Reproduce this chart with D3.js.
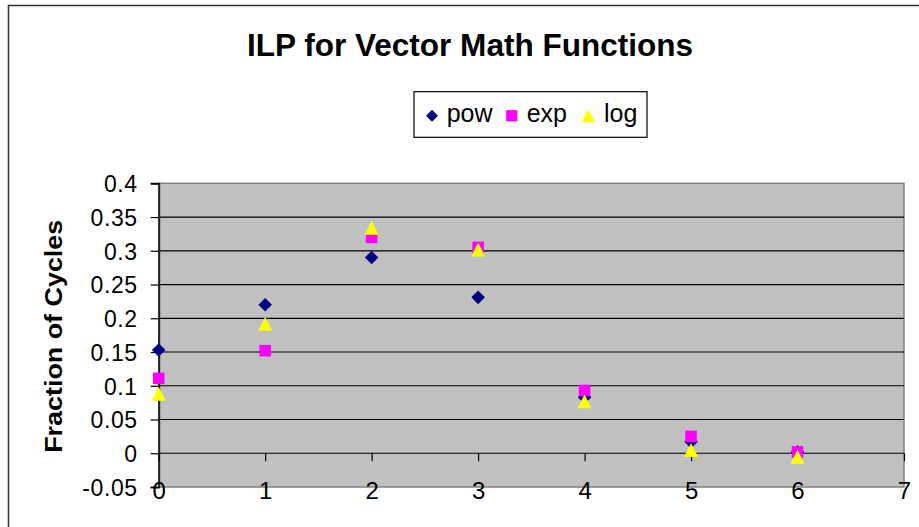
<!DOCTYPE html>
<html><head><meta charset="utf-8">
<script src="https://cdn.jsdelivr.net/npm/d3@7"></script>
<style>body{margin:0;background:#fff}svg{display:block}text{font-family:Arial,"Liberation Sans",sans-serif}</style>
</head><body>
<script>
const categories = [0,1,2,3,4,5,6];
const powValues = [0.153,0.220,0.290,0.231,0.083,0.017,0.002];
const expValues = [0.111,0.152,0.320,0.305,0.093,0.025,0.002];
const logValues = [0.088,0.192,0.334,0.302,0.077,0.005,-0.005];
const xTicks = [0,1,2,3,4,5,6,7];
const yTicks = [-0.05,0,0.05,0.1,0.15,0.2,0.25,0.3,0.35,0.4];
const seriesNames = ["pow","exp","log"];
const seriesColors = ["#000080","#FF00FF","#FFFF00"];
const seriesShapes = ["diamond","square","triangle"];

const W=919,H=527;
const svg=d3.select("body").append("svg").attr("width",W).attr("height",H);
svg.append("rect").attr("x",8.5).attr("y",5.5).attr("width",930).attr("height",540)
  .attr("fill","#fff").attr("stroke","#333").attr("stroke-width",1.5);

const x=d3.scaleLinear().domain([0,7]).range([158.7,904]);
const y=d3.scaleLinear().domain([-0.05,0.4]).range([487,183.3]);

// plot area
svg.append("rect").attr("x",x(0)).attr("y",y(0.4)).attr("width",x(7)-x(0)).attr("height",y(-0.05)-y(0.4))
  .attr("fill","#C0C0C0").attr("stroke","#808080").attr("stroke-width",1.5);
// gridlines
svg.append("g").selectAll("line").data(yTicks.filter(v=>v>-0.04&&v<0.39)).join("line")
  .attr("x1",x(0)).attr("x2",x(7)).attr("y1",d=>y(d)).attr("y2",d=>y(d))
  .attr("stroke","#000").attr("stroke-width",1.2);

// y axis
const yAxis=svg.append("g").attr("transform",`translate(${x(0)},0)`)
  .call(d3.axisLeft(y).tickValues(yTicks).tickSize(8).tickPadding(13).tickFormat(d=>String(+d.toFixed(2))));
yAxis.select(".domain").attr("stroke","#222").attr("stroke-width",2);
yAxis.selectAll(".tick line").attr("stroke","#000").attr("stroke-width",1.2);
yAxis.selectAll(".tick text").attr("font-size",23).attr("fill","#000").attr("letter-spacing",0.6)
  .attr("dy","0.36em").attr("font-family","Arial,'Liberation Sans',sans-serif");

// x axis at y=0
const xAxis=svg.append("g").attr("transform",`translate(0,${y(0)})`)
  .call(d3.axisBottom(x).tickValues(xTicks).tickSize(8).tickFormat(d3.format("d")));
xAxis.select(".domain").remove();
xAxis.selectAll(".tick line").attr("stroke","#000").attr("stroke-width",1.2);
xAxis.selectAll(".tick text").attr("font-size",24).attr("fill","#000")
  .attr("y",490.5-y(0)).attr("dy","0.36em").attr("font-family","Arial,'Liberation Sans',sans-serif");

function shapePath(shape){
  if(shape==="diamond") return "M0,-6.8L6.8,0L0,6.8L-6.8,0Z";
  if(shape==="square") return "M-5.8,-5.8H5.8V5.8H-5.8Z";
  return "M0,-7L7,7H-7Z";
}
const series=[powValues,expValues,logValues];
series.forEach((vals,i)=>{
  svg.append("g").selectAll("path").data(categories).join("path")
    .attr("d",shapePath(seriesShapes[i]))
    .attr("transform",(c,j)=>`translate(${x(c)},${y(vals[j])})`)
    .attr("fill",seriesColors[i]);
});

// title
svg.append("text").attr("x",470).attr("y",56).attr("text-anchor","middle")
  .attr("font-size",32).attr("font-weight","bold").attr("textLength",446).attr("lengthAdjust","spacingAndGlyphs")
  .text("ILP for Vector Math Functions");

// y axis title
svg.append("text").attr("transform","translate(62,336.3) rotate(-90)").attr("text-anchor","middle")
  .attr("font-size",23).attr("font-weight","bold").attr("textLength",233).attr("lengthAdjust","spacingAndGlyphs")
  .text("Fraction of Cycles");

// legend
svg.append("rect").attr("x",414).attr("y",91.7).attr("width",233).attr("height",45.6)
  .attr("fill","#fff").attr("stroke","#000").attr("stroke-width",1.2);
const legMarkX=[432,511.7,588.3], legTextX=[446.7,526.7,604];
const legShapes={diamond:"M0,-6L6,0L0,6L-6,0Z",square:"M-5.6,-5.6H5.6V5.6H-5.6Z",triangle:"M0,-6.5L6.7,6.5H-6.7Z"};
seriesNames.forEach((n,i)=>{
  svg.append("path").attr("d",legShapes[seriesShapes[i]]).attr("transform",`translate(${legMarkX[i]},115.7)`).attr("fill",seriesColors[i]);
  svg.append("text").attr("x",legTextX[i]).attr("y",121.7).attr("font-size",25).text(n);
});
</script>
</body></html>
